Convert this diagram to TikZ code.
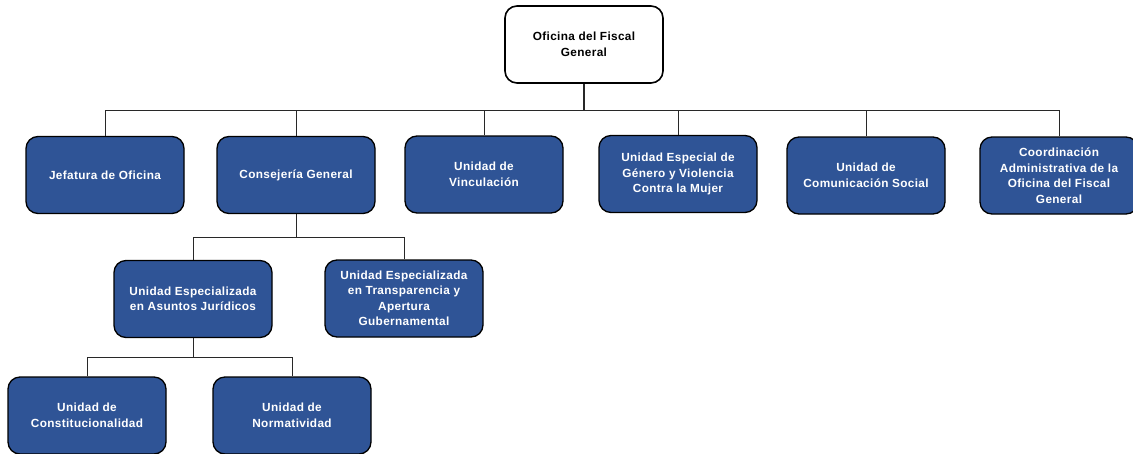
\documentclass[tikz,border=0pt]{standalone}
\usepackage{fontspec}
\setmainfont{Liberation Sans}
\newfontfamily\boxfont[LetterSpace=3]{Liberation Sans}
\definecolor{boxblue}{RGB}{47,84,150}
\definecolor{linegray}{RGB}{40,40,40}
\begin{document}
\begin{tikzpicture}[x=1pt,y=-1pt,
  unit/.style={draw=black, line width=1.3pt, fill=boxblue, rounded corners=12pt,
    minimum width=158pt, minimum height=77pt, inner sep=0pt, align=center,
    text=white, font=\boxfont\fontsize{11.8}{15.5}\selectfont\bfseries},
  topbox/.style={unit, fill=white, text=black, line width=1.6pt},
  conn/.style={draw=linegray, line width=0.9pt}]
\useasboundingbox (0,0) rectangle (1133,453);
% nodes
\node[topbox] (ofg) at (584,44.5) {Oficina del Fiscal\\General};
\node[unit] (jef) at (105,175) {Jefatura de Oficina};
\node[unit] (con) at (296,175) {Consejería General};
\node[unit] (vin) at (484,174.5) {Unidad de\\Vinculación};
\node[unit] (gen) at (678,174) {Unidad Especial de\\Género y Violencia\\Contra la Mujer};
\node[unit] (com) at (866,175.5) {Unidad de\\Comunicación Social};
\node[unit] (coo) at (1059,175.5) {Coordinación\\Administrativa de la\\Oficina del Fiscal\\General};
\node[unit] (asu) at (193,299) {Unidad Especializada\\en Asuntos Jurídicos};
\node[unit] (tra) at (404,298.5) {Unidad Especializada\\en Transparencia y\\Apertura\\Gubernamental};
\node[unit] (cst) at (87,415.5) {Unidad de\\Constitucionalidad};
\node[unit] (nor) at (292,415.5) {Unidad de\\Normatividad};
% bus levels
\coordinate (b1) at (0,110);
\coordinate (b2) at (0,237);
\coordinate (b3) at (0,357);
% connectors
\draw[conn, line width=1.6pt] (ofg.south) -- (ofg.south |- b1);
\draw[conn] (jef.north) |- (coo.north |- b1) -- (coo.north);
\draw[conn] (con.north) -- (con.north |- b1);
\draw[conn] (vin.north) -- (vin.north |- b1);
\draw[conn] (gen.north) -- (gen.north |- b1);
\draw[conn] (com.north) -- (com.north |- b1);
\draw[conn] (con.south) -- (con.south |- b2);
\draw[conn] (asu.north) |- (tra.north |- b2) -- (tra.north);
\draw[conn] (asu.south) -- (asu.south |- b3);
\draw[conn] (cst.north) |- (nor.north |- b3) -- (nor.north);
\end{tikzpicture}
\end{document}
